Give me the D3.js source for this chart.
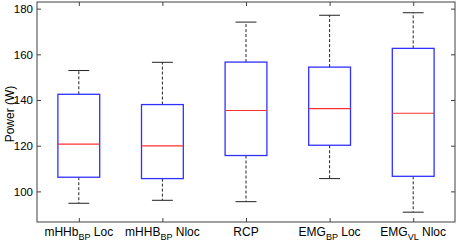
<!DOCTYPE html>
<html>
<head>
<meta charset="utf-8">
<script src="https://cdn.jsdelivr.net/npm/d3@7"></script>
<style>
  body { margin: 0; background: #fff; }
  svg { font-family: "Liberation Sans", Arial, sans-serif; }
</style>
</head>
<body>
<div id="chart"></div>
<script>
// categories: [main, subscript, suffix]
var categories = [
    ["mHHb", "BP", " Loc"],
    ["mHHB", "BP", " Nloc"],
    ["RCP", "", ""],
    ["EMG", "BP", " Loc"],
    ["EMG", "VL", " Nloc"]
];
var whiskerLow  = [94.8, 96.1, 95.5, 105.6, 90.9];
var q1          = [106.2, 105.6, 115.7, 120.2, 106.6];
var medians     = [120.7, 119.9, 135.4, 136.2, 134.2];
var q3          = [142.5, 138.0, 156.6, 154.4, 162.6];
var whiskerHigh = [152.9, 156.5, 174.1, 177.1, 178.2];
var yTicks = [100, 120, 140, 160, 180];

var width = 457, height = 245;
var margin = {top: 2, right: 2, bottom: 23, left: 37};
var mwidth = width - margin.left - margin.right;
var mheight = height - margin.top - margin.bottom;

var xScale = d3.scaleLinear()
    .domain([0.5, categories.length + 0.5])
    .range([0, mwidth]);
var yScale = d3.scaleLinear()
    .domain([86.6, 182.9])
    .range([mheight, 0]);

var svg = d3.select("#chart").append("svg")
    .attr("width", width)
    .attr("height", height);

var g = svg.append("g")
    .attr("transform", "translate(" + margin.left + "," + margin.top + ")");

var axisColor = "#404040";
var idx = d3.range(categories.length);

// boxes
var boxW = 0.5, capW = 0.25;
var boxes = g.selectAll(".box").data(idx).enter().append("g");

// dashed whiskers
boxes.append("line")
    .attr("x1", d => xScale(d + 1)).attr("x2", d => xScale(d + 1))
    .attr("y1", d => yScale(q3[d])).attr("y2", d => yScale(whiskerHigh[d]))
    .attr("stroke", "#222").attr("stroke-dasharray", "3,2");
boxes.append("line")
    .attr("x1", d => xScale(d + 1)).attr("x2", d => xScale(d + 1))
    .attr("y1", d => yScale(q1[d])).attr("y2", d => yScale(whiskerLow[d]))
    .attr("stroke", "#222").attr("stroke-dasharray", "3,2");
// caps
[whiskerHigh, whiskerLow].forEach(function(arr) {
    boxes.append("line")
        .attr("x1", d => xScale(d + 1 - capW / 2)).attr("x2", d => xScale(d + 1 + capW / 2))
        .attr("y1", d => yScale(arr[d])).attr("y2", d => yScale(arr[d]))
        .attr("stroke", "#222");
});
boxes.append("rect")
    .attr("x", d => xScale(d + 1 - boxW / 2))
    .attr("width", d => xScale(d + 1 + boxW / 2) - xScale(d + 1 - boxW / 2))
    .attr("y", d => yScale(q3[d]))
    .attr("height", d => yScale(q1[d]) - yScale(q3[d]))
    .attr("fill", "none").attr("stroke", "#3030ff").attr("stroke-width", 1.3);
boxes.append("line")
    .attr("x1", d => xScale(d + 1 - boxW / 2)).attr("x2", d => xScale(d + 1 + boxW / 2))
    .attr("y1", d => yScale(medians[d])).attr("y2", d => yScale(medians[d]))
    .attr("stroke", "#ff3030").attr("stroke-width", 1.2);

// frame
g.append("rect")
    .attr("width", mwidth).attr("height", mheight)
    .attr("fill", "none").attr("stroke", axisColor);

// y axes (left with labels, right ticks only)
var yLeft = g.append("g").call(d3.axisLeft(yScale).tickValues(yTicks).tickSize(-4).tickPadding(4));
var yRight = g.append("g").attr("transform", "translate(" + mwidth + ",0)")
    .call(d3.axisRight(yScale).tickValues(yTicks).tickSize(-4).tickFormat(""));
// x axes (bottom and top ticks)
var xVals = idx.map(d => d + 1);
var xBottom = g.append("g").attr("transform", "translate(0," + mheight + ")")
    .call(d3.axisBottom(xScale).tickValues(xVals).tickSize(-4).tickFormat(""));
var xTop = g.append("g")
    .call(d3.axisTop(xScale).tickValues(xVals).tickSize(-4).tickFormat(""));

[yLeft, yRight, xBottom, xTop].forEach(function(a) {
    a.select(".domain").remove();
    a.selectAll(".tick line").attr("stroke", axisColor);
});
yLeft.selectAll("text").attr("font-size", 11.5).attr("fill", "#000")
    .attr("font-family", "Liberation Sans, Arial, sans-serif");

// x labels with subscripts
var labels = g.selectAll(".xlab").data(idx).enter().append("text")
    .attr("x", d => xScale(d + 1))
    .attr("y", mheight + 14)
    .attr("text-anchor", "middle")
    .attr("font-size", 12)
    .attr("fill", "#000");
labels.each(function(d) {
    var t = d3.select(this), c = categories[d];
    t.append("tspan").text(c[0]);
    if (c[1]) {
        t.append("tspan").attr("font-size", 9).attr("dy", 4).text(c[1]);
        t.append("tspan").attr("dy", -4).text(c[2]);
    }
});

// y label
svg.append("text")
    .attr("transform", "translate(14,114) rotate(-90)")
    .attr("text-anchor", "middle")
    .attr("font-size", 12)
    .attr("fill", "#000")
    .text("Power (W)");
</script>
</body>
</html>
